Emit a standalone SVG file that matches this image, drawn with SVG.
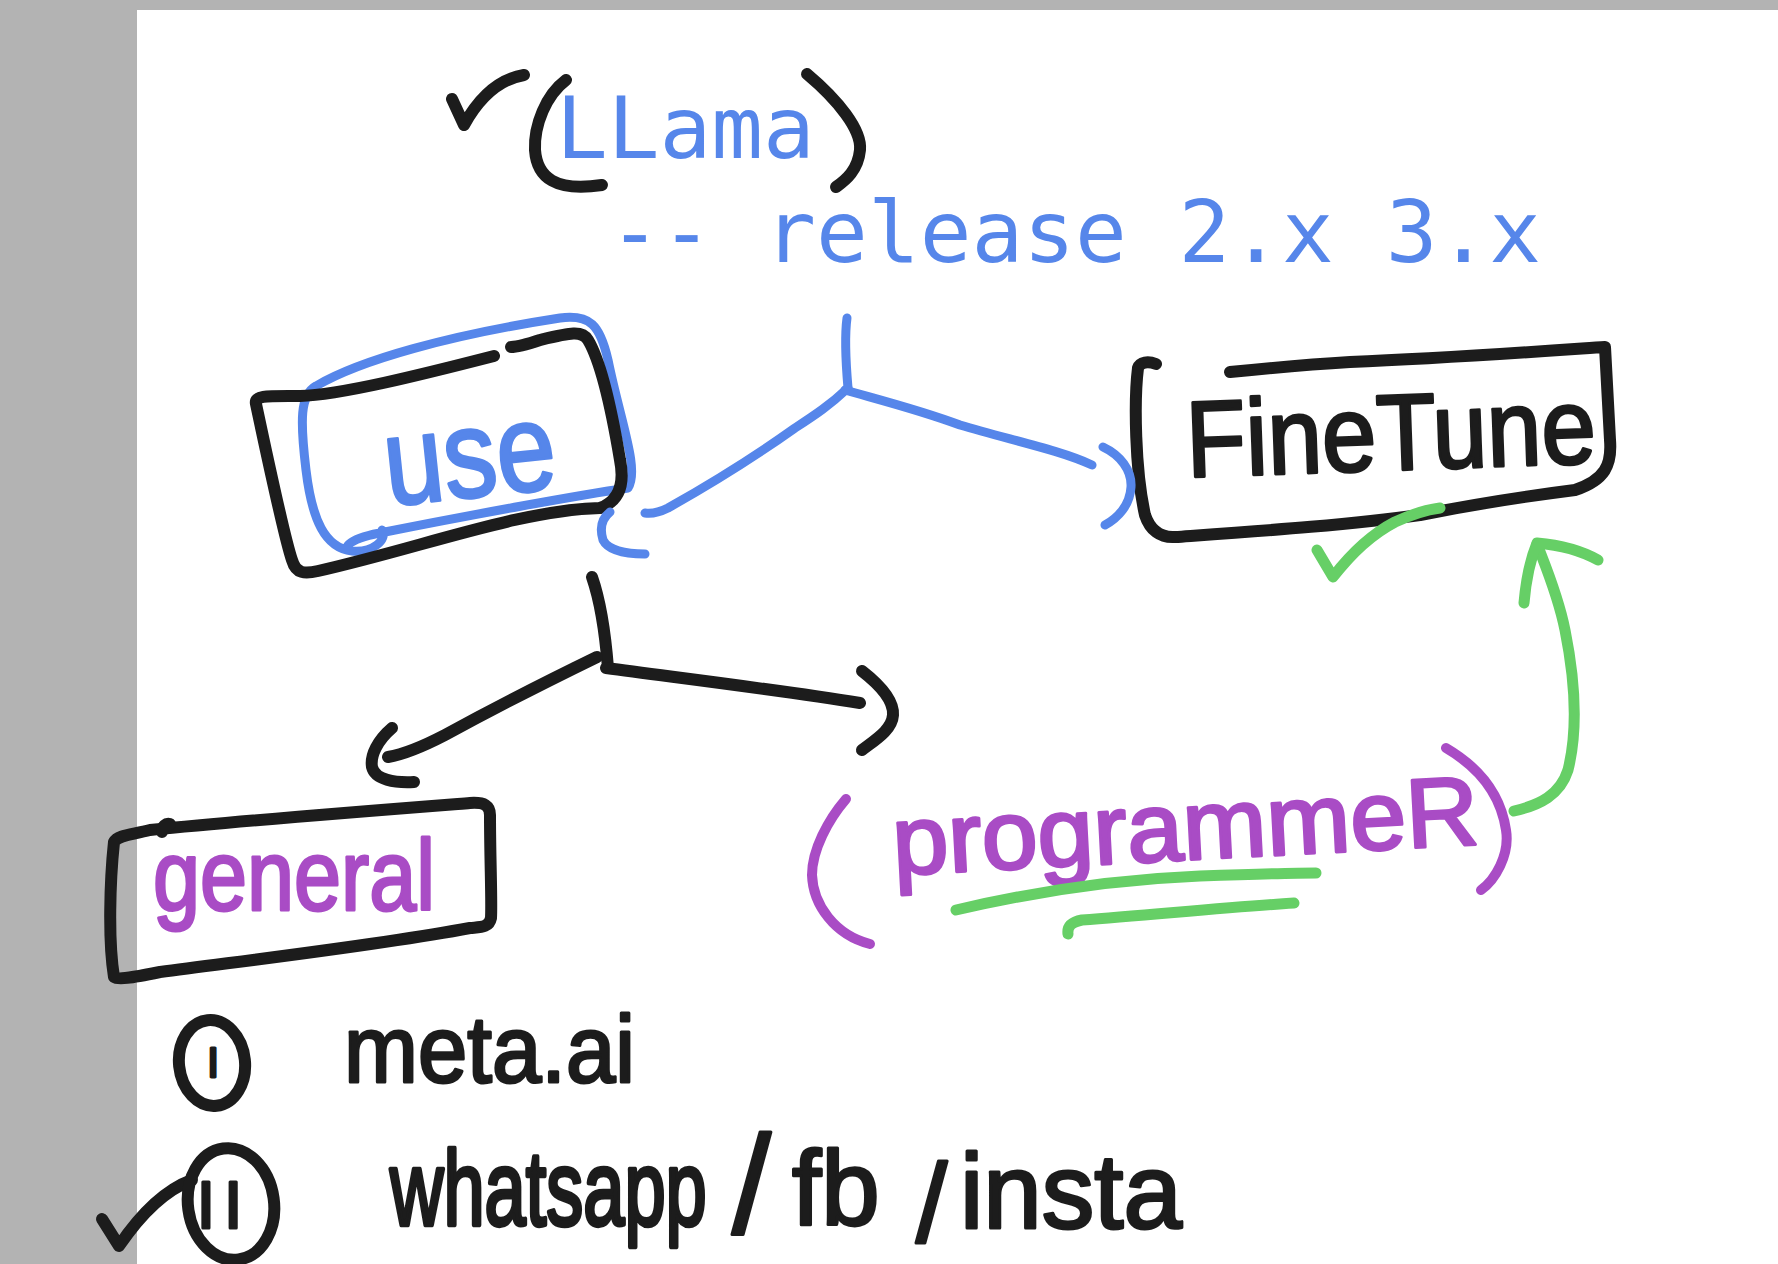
<svg xmlns="http://www.w3.org/2000/svg" width="1778" height="1264" viewBox="0 0 1778 1264">
<defs>
<style>
.ink{fill:none;stroke-linecap:round;stroke-linejoin:round}
.k{stroke:#1c1c1c;stroke-width:12}
.b{stroke:#5686ea;stroke-width:9}
.g{stroke:#66cf66;stroke-width:11}
.p{stroke:#a94cc5;stroke-width:10}
.mono{font-family:"DejaVu Sans Mono","Liberation Mono",monospace;fill:#5686ea;font-size:86px}
.hw{font-family:"Liberation Sans",Arial,sans-serif;stroke-linejoin:round}
.tk{fill:#1c1c1c;stroke:#1c1c1c;stroke-width:3}
.tb{fill:#5686ea;stroke:#5686ea;stroke-width:3}
.tp{fill:#a94cc5;stroke:#a94cc5;stroke-width:3}
</style>
</defs>
<rect x="0" y="0" width="1778" height="1264" fill="#b3b3b3"/>
<rect x="137" y="10" width="1641" height="1254" fill="#ffffff"/>

<g id="node-llama">
<path class="ink k" d="M452 99 L464 125 C480 96 500 79 524 75"/>
<path class="ink k" d="M566 80 C546 95 534 125 535 150 C537 178 556 192 602 185"/>
<path class="ink k" d="M807 74 C838 100 862 130 860 150 C858 170 846 180 836 187"/>
<text class="mono" x="556" y="158">LLama</text>
</g>

<g id="node-release">
<text class="mono" x="609" y="262">-- release 2.x 3.x</text>
</g>

<g id="node-use">
<path class="ink b" d="M316 386 C360 360 450 335 560 318 C590 314 600 325 608 360 C620 420 640 470 628 488 C580 495 470 515 385 532 C350 538 340 548 352 551 C372 553 388 540 382 530 M352 551 C325 548 312 520 306 470 C300 420 300 395 316 386"/>
<path class="ink k" d="M494 356 C420 375 340 395 300 396 C268 396 254 395 256 404 C270 470 285 540 292 560 C296 574 305 574 318 571 C420 548 520 510 600 508 C622 500 624 480 620 460 C610 400 600 360 588 340 C582 330 570 333 540 340 C525 345 515 347 511 347"/>
<text class="hw tb" x="385" y="497" font-size="125" textLength="172" lengthAdjust="spacingAndGlyphs" transform="rotate(-6 470 470)">use</text>
</g>

<g id="node-finetune">
<path class="ink k" d="M1156 364 C1148 361 1140 362 1138 368 C1134 400 1135 470 1145 515 C1150 530 1160 538 1175 537 C1260 531 1350 525 1420 515 C1470 505 1520 497 1575 490 C1605 480 1612 465 1610 440 C1608 400 1606 365 1605 347 C1560 350 1450 358 1350 362 C1300 365 1250 370 1230 372"/>
<text class="hw tk" x="1186" y="470" font-size="108" textLength="410" lengthAdjust="spacingAndGlyphs" transform="rotate(-2 1390 440)">FineTune</text>
<path class="ink g" d="M1317 550 L1333 577 C1350 555 1370 535 1395 522 C1410 515 1425 510 1440 508"/>
</g>

<g id="node-general">
<path class="ink k" d="M114 977 C108 940 110 880 114 842 C118 835 130 835 150 830 C250 820 380 810 470 803 C485 802 490 806 490 815 C490 860 492 900 491 918 C489 928 480 927 470 928 C380 945 250 960 160 972 C130 978 118 980 114 977 Z"/>
<path class="ink k" d="M162 832 C162 826 166 823 170 824"/>
<text class="hw tp" x="153" y="910" font-size="100" textLength="282" lengthAdjust="spacingAndGlyphs">general</text>
</g>

<g id="node-programmer">
<path class="ink p" d="M846 799 C828 820 812 850 812 875 C813 905 835 935 870 944"/>
<path class="ink p" d="M1446 748 C1475 765 1500 790 1506 830 C1510 855 1495 880 1481 890"/>
<text class="hw tp" x="893" y="860" font-size="98" textLength="587" lengthAdjust="spacingAndGlyphs" transform="rotate(-3 1180 850)">programmeR</text>
<path class="ink g" d="M956 910 C1020 895 1100 880 1200 876 C1260 874 1300 873 1316 873"/>
<path class="ink g" d="M1068 934 C1067 926 1072 922 1082 920 C1150 915 1230 907 1294 903"/>
</g>

<g id="node-metaai">
<ellipse class="ink k" cx="212" cy="1063" rx="33" ry="43" transform="rotate(-6 212 1063)"/>
<text class="hw tk" x="213" y="1077" font-size="42" text-anchor="middle">I</text>
<text class="hw tk" x="344" y="1082" font-size="95" textLength="291" lengthAdjust="spacingAndGlyphs">meta.ai</text>
</g>

<g id="node-whatsapp">
<path class="ink k" d="M102 1219 L119 1246 C140 1215 165 1190 192 1180"/>
<ellipse class="ink k" cx="231" cy="1204" rx="43" ry="56" transform="rotate(-8 231 1204)"/>
<text class="hw tk" x="224" y="1228" font-size="66" text-anchor="middle" letter-spacing="9">II</text>
<text class="hw tk" transform="translate(390 1225) scale(1 1.42)" font-size="74" stroke-width="2.5">whatsapp</text>
<text class="hw tk" x="732" y="1233" font-size="140">/</text>
<text class="hw tk" x="792" y="1225" font-size="105">fb</text>
<text class="hw tk" x="916" y="1242" font-size="112">/</text>
<text class="hw tk" x="960" y="1228" font-size="105">insta</text>
</g>

<g id="connectors">
<path class="ink b" d="M847 318 C844 340 846 365 848 388"/>
<path class="ink b" d="M848 388 C830 405 815 415 795 428 C750 460 700 490 668 508 C660 512 652 514 645 513"/>
<path class="ink b" d="M845 390 C880 400 920 410 960 425 C1010 440 1060 450 1092 465"/>
<path class="ink b" d="M610 512 C600 520 600 530 603 540 C608 550 625 554 645 554"/>
<path class="ink b" d="M1103 447 C1120 455 1132 470 1131 487 C1130 505 1118 518 1105 525"/>
<path class="ink k" d="M592 577 C600 600 605 630 608 668"/>
<path class="ink k" d="M606 668 C680 678 780 690 860 703"/>
<path class="ink k" d="M597 657 C560 675 500 705 445 735 C420 748 400 755 388 757"/>
<path class="ink k" d="M392 728 C378 740 370 755 372 767 C375 780 395 783 414 782"/>
<path class="ink k" d="M862 671 C880 685 894 700 893 715 C892 730 875 740 862 750"/>
<path class="ink g" d="M1514 811 C1540 805 1560 795 1568 770 C1578 730 1575 680 1565 630 C1558 595 1545 565 1537 544"/>
<path class="ink g" d="M1524 603 C1526 580 1530 560 1537 543 C1560 545 1580 550 1598 560"/>
</g>
</svg>
